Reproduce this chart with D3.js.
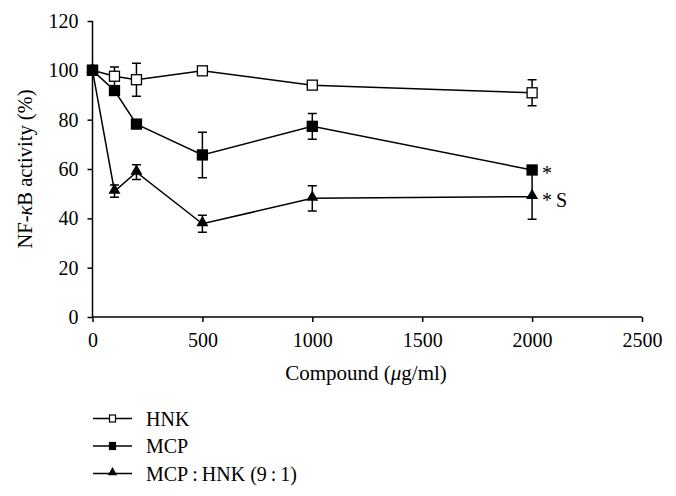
<!DOCTYPE html>
<html>
<head>
<meta charset="utf-8">
<script src="https://cdn.jsdelivr.net/npm/d3@7"></script>
<style>
  body { margin: 0; background: #fff; }
  text { font-family: "Liberation Serif", "DejaVu Serif", serif; fill: #000; }
</style>
</head>
<body>
<script>
var width = 676, height = 496;

// data
var doses = [0, 100, 200, 500, 1000, 2000];
var hnk = [100, 97.6, 96.2, 99.8, 94.0, 90.9];
var hnkErr = [0, 3.8, 6.7, 0, 0, 5.3];
var mcp = [100, 91.8, 78.2, 65.7, 77.3, 59.6];
var mcpErr = [0, 1.5, 0, 9.2, 5.2, 1.0];
var mix = [100, 51.0, 58.7, 37.8, 48.1, 48.8];
var mixErr = [0, 2.5, 3.0, 3.4, 5.1, 9.2];
var seriesNames = ["HNK", "MCP", "MCP\u2009:\u2009HNK (9\u2009:\u20091)"];
var markers = ["openSquare", "square", "triangle"];
var notes = [null, "*", "*\u2009S"];
var xTicks = [0, 500, 1000, 1500, 2000, 2500];
var yTicks = [0, 20, 40, 60, 80, 100, 120];

var margin = {left: 92.5, top: 21, right: 34, bottom: 179};

var svg = d3.select("body").append("svg")
    .attr("width", width)
    .attr("height", height);

var x = d3.scaleLinear().domain([0, 2500]).range([margin.left, width - margin.right]);
var y = d3.scaleLinear().domain([0, 120]).range([height - margin.bottom, margin.top]);

var xAxis = svg.append("g")
    .attr("transform", "translate(0," + y(0) + ")")
    .call(d3.axisBottom(x).tickValues(xTicks).tickSize(5).tickPadding(11).tickFormat(d3.format("d")));
var yAxis = svg.append("g")
    .attr("transform", "translate(" + x(0) + ",0)")
    .call(d3.axisLeft(y).tickValues(yTicks).tickSize(5).tickPadding(9));

[xAxis, yAxis].forEach(function(a) {
  a.select(".domain").attr("stroke", "#000").attr("stroke-width", 1.5);
  a.selectAll(".tick line").attr("stroke", "#000").attr("stroke-width", 1.5);
  a.selectAll(".tick text").attr("font-size", 20).style("font-family", "Liberation Serif, serif");
});
// plain axis lines without the outer ticks
yAxis.select(".domain").attr("d", "M0," + y(120) + "V" + y(0));
xAxis.select(".domain").attr("d", "M" + x(0) + ",0H" + x(2500));

svg.append("text")
    .attr("x", 366)
    .attr("y", 380)
    .attr("text-anchor", "middle")
    .attr("font-size", 21)
    .html("Compound (<tspan font-style='italic'>\u03bc</tspan>g/ml)");

svg.append("text")
    .attr("transform", "translate(32," + y(60) + ") rotate(-90)")
    .attr("text-anchor", "middle")
    .attr("font-size", 20.5)
    .html("NF-<tspan font-style='italic'>\u03ba</tspan>B activity (%)");

var allSeries = [
  {vals: hnk, err: hnkErr},
  {vals: mcp, err: mcpErr},
  {vals: mix, err: mixErr}
];

var line = d3.line()
    .x(function(d) { return x(d.dose); })
    .y(function(d) { return y(d.v); });

function drawMarker(g, type, cx, cy) {
  if (type === "triangle") {
    g.append("path")
      .attr("d", d3.symbol().type(d3.symbolTriangle).size(62)())
      .attr("transform", "translate(" + cx + "," + (cy - 1) + ")")
      .attr("fill", "#000");
  } else {
    g.append("rect")
      .attr("x", cx - 5).attr("y", cy - 5)
      .attr("width", 10).attr("height", 10)
      .attr("fill", type === "openSquare" ? "#fff" : "#000")
      .attr("stroke", "#000").attr("stroke-width", 1.3);
  }
}

allSeries.forEach(function(s, i) {
  var pts = doses.map(function(d, j) { return {dose: d, v: s.vals[j], e: s.err[j]}; });
  var g = svg.append("g");
  g.append("path").datum(pts)
    .attr("d", line)
    .attr("fill", "none")
    .attr("stroke", "#000")
    .attr("stroke-width", 1.5);
  pts.forEach(function(p) {
    if (p.e > 0) {
      var cx = x(p.dose);
      g.append("path")
        .attr("d", "M" + cx + "," + y(p.v + p.e) + "V" + y(p.v - p.e) +
          "M" + (cx - 4.5) + "," + y(p.v + p.e) + "H" + (cx + 4.5) +
          "M" + (cx - 4.5) + "," + y(p.v - p.e) + "H" + (cx + 4.5))
        .attr("stroke", "#000").attr("stroke-width", 1.5).attr("fill", "none");
    }
  });
  pts.forEach(function(p) { drawMarker(g, markers[i], x(p.dose), y(p.v)); });
  if (notes[i]) {
    svg.append("text")
      .attr("x", x(2000) + 10)
      .attr("y", y(s.vals[5]) + 10)
      .attr("font-size", 20)
      .text(notes[i]);
  }
});

// legend
var legend = svg.append("g");
seriesNames.forEach(function(name, i) {
  var ly = 418.5 + i * 27.5;
  legend.append("line")
    .attr("x1", 93).attr("x2", 132).attr("y1", ly).attr("y2", ly)
    .attr("stroke", "#000").attr("stroke-width", 1.5);
  var lg = legend.append("g");
  if (markers[i] === "triangle") {
    lg.append("path")
      .attr("d", d3.symbol().type(d3.symbolTriangle).size(38)())
      .attr("transform", "translate(112.5," + (ly - 1) + ")")
      .attr("fill", "#000");
  } else {
    lg.append("rect")
      .attr("x", 109.5).attr("y", ly - 3.5).attr("width", 6).attr("height", 7)
      .attr("fill", markers[i] === "openSquare" ? "#fff" : "#000")
      .attr("stroke", "#000").attr("stroke-width", 1.2);
  }
  legend.append("text")
    .attr("x", 146).attr("y", ly + 7)
    .attr("font-size", 20)
    .text(name);
});
</script>
</body>
</html>
